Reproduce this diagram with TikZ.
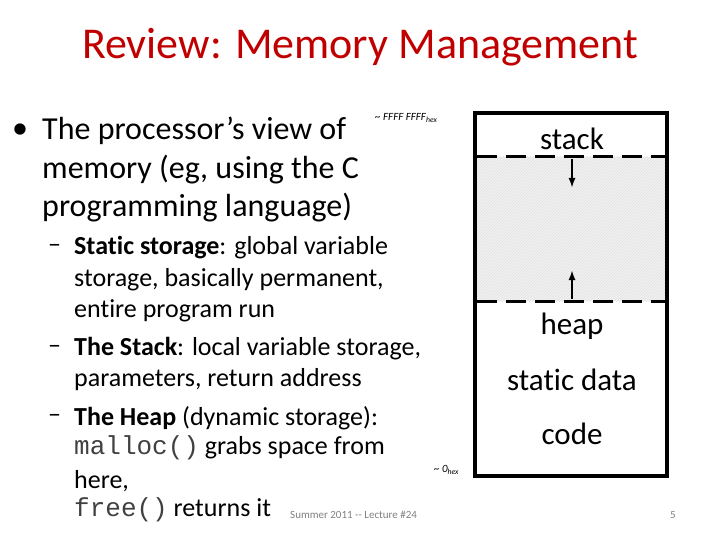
\documentclass[tikz,border=0pt]{standalone}
\usepackage{fontspec}
\setmainfont[Ligatures={NoCommon}]{Carlito}
\newfontfamily\monof{Liberation Mono}
\usetikzlibrary{patterns,arrows.meta}
\definecolor{titlered}{RGB}{192,0,0}
\begin{document}
\begin{tikzpicture}[x=1pt,y=-1pt,
  txt/.style={anchor=west,inner sep=0pt,font=\fontsize{32}{32}\selectfont},
  sub/.style={anchor=west,inner sep=0pt,font=\fontsize{26}{26}\selectfont},
  lbl/.style={inner sep=0pt,font=\fontsize{31}{31}\selectfont},
  tiny/.style={inner sep=0pt,font=\fontsize{11}{11}\selectfont\itshape},
  memline/.style={line width=3.5pt},
  divline/.style={line width=3pt,dash pattern=on 20pt off 9pt},
  arr/.style={line width=2.5pt,-{Latex[length=10pt,width=7pt]}}]
\useasboundingbox (0,0) rectangle (720,540);
\node[inner sep=0pt,text=titlered,font=\fontsize{44}{44}\selectfont] (title) at (360,47) {Review: Memory Management};
\node[txt] (b) at (12,131) {•};
\node[txt] (l1) at (42,131) {The processor’s view of};
\node[txt] (l2) at (42,170) {memory (eg, using the C};
\node[txt] (l3) at (42,208) {programming language)};
\node[sub] (d1) at (48,248) {–};
\node[sub] (s1) at (74,248) {\textbf{Static storage}: global variable};
\node[sub] (s2) at (74,280) {storage, basically permanent,};
\node[sub] (s3) at (74,311) {entire program run};
\node[sub] (d2) at (48,349) {–};
\node[sub] (s4) at (74,349) {\textbf{The Stack}: local variable storage,};
\node[sub] (s5) at (74,380) {parameters, return address};
\node[sub] (d3) at (48,418) {–};
\node[sub] (s6) at (74,418) {\textbf{The Heap} (dynamic storage):};
\node[sub] (s7) at (74,448) {{\monof\color{black!75}malloc()} grabs space from};
\node[sub] (s8) at (74,481) {here,};
\node[sub] (s9) at (74,510) {{\monof\color{black!75}free()} returns it};
% memory box
\fill[gray!10] (475,157) rectangle (667,301);
\path[pattern=north east lines,pattern color=gray!25] (475,157) rectangle (667,301);
\draw[memline] (475,113) rectangle (667,476);
\draw[divline] (477,157) -- (667,157);
\draw[divline] (477,301) -- (667,301);
\coordinate (a1s) at (572,159);
\coordinate (a1e) at (572,188);
\coordinate (a2s) at (572,299);
\coordinate (a2e) at (572,270);
\draw[arr] (a1s) -- (a1e);
\draw[arr] (a2s) -- (a2e);
\node[lbl] (stack) at (572,139) {stack};
\node[lbl] (heap) at (572,326) {heap};
\node[lbl] (static) at (572,380) {static data};
\node[lbl] (code) at (572,434) {code};
\node[tiny,anchor=west] (hi) at (375,118) {\textasciitilde\ FFFF FFFF\textsubscript{hex}};
\node[tiny,anchor=west] (lo) at (434,470) {\textasciitilde\ 0\textsubscript{hex}};
\node[inner sep=0pt,anchor=west,text=gray,font=\fontsize{11}{11}\selectfont] (foot) at (290,515) {Summer 2011 {-}{-} Lecture \#24};
\node[inner sep=0pt,text=gray,font=\fontsize{11}{11}\selectfont] (pg) at (673,515) {5};
\end{tikzpicture}
\end{document}
